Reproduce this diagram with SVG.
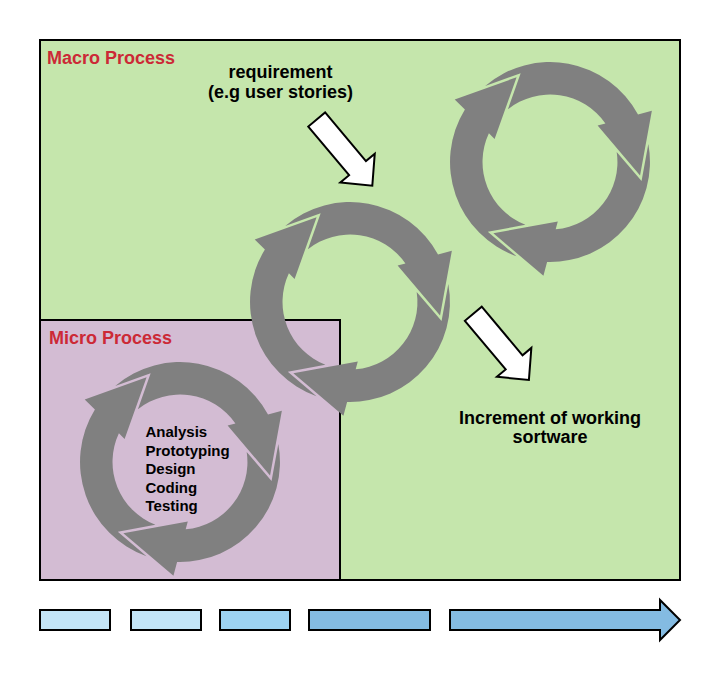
<svg xmlns="http://www.w3.org/2000/svg" xmlns:xlink="http://www.w3.org/1999/xlink" width="720" height="680" viewBox="0 0 720 680">
  <style>
    .lbl { font-family: "Liberation Sans", Arial, Helvetica, sans-serif; font-weight: bold; }
    .title { font-size: 18px; fill: #cc2936; }
    .big { font-size: 18px; fill: #000000; text-anchor: middle; }
    .small { font-size: 15px; fill: #000000; }
    .box { stroke: #000000; stroke-width: 2; }
    .seg { stroke: #000000; stroke-width: 2; }
    .cyc { fill: #808080; stroke: none; }
    .wa { fill: #ffffff; stroke: #000000; stroke-width: 2; stroke-linejoin: miter; }
  </style>
  <defs>
    <path id="ca" class="cyc" d="M -33.5,94.2 A 100,100 0 0 1 -85.1,-52.5 L -95.3,-62.6 L -33.4,-84.7 L -55.4,-23 L -61.1,-28.7 A 67.5,67.5 0 0 0 -24.6,62.8 L -62.2,69.8 Z"/>
    <g id="cycle">
      <use xlink:href="#ca" href="#ca"/>
      <use xlink:href="#ca" href="#ca" transform="rotate(120)"/>
      <use xlink:href="#ca" href="#ca" transform="rotate(240)"/>
    </g>
    <path id="warrow" class="wa" d="M0,-11 H63.5 V-22.5 L86.5,0 L63.5,22.5 V11 H0 Z"/>
  </defs>

  <rect width="720" height="680" fill="#ffffff"/>

  <g id="macro-process">
    <rect class="box" x="40" y="40" width="640" height="540" fill="#c5e6ac"/>
    <text class="lbl title" x="47" y="64">Macro Process</text>
  </g>

  <g id="micro-process">
    <rect class="box" x="40" y="320" width="300" height="260" fill="#d3bcd3"/>
    <text class="lbl title" x="49" y="343.5">Micro Process</text>
  </g>

  <g id="cycle-top">
    <use xlink:href="#cycle" href="#cycle" transform="translate(550,162)"/>
  </g>

  <g id="cycle-middle">
    <use xlink:href="#cycle" href="#cycle" transform="translate(350,302)"/>
  </g>

  <g id="cycle-micro">
    <use xlink:href="#cycle" href="#cycle" transform="translate(180,462)"/>
    <text class="lbl small" x="145.5" y="437">Analysis</text>
    <text class="lbl small" x="145.5" y="455.5">Prototyping</text>
    <text class="lbl small" x="145.5" y="474">Design</text>
    <text class="lbl small" x="145.5" y="492.5">Coding</text>
    <text class="lbl small" x="145.5" y="511">Testing</text>
  </g>

  <g id="requirement">
    <text class="lbl big" x="280.5" y="77.5">requirement</text>
    <text class="lbl big" x="280.5" y="98">(e.g user stories)</text>
  </g>

  <g id="increment">
    <text class="lbl big" x="550" y="424">Increment of working</text>
    <text class="lbl big" x="550" y="443">sortware</text>
  </g>

  <g id="connectors">
    <use xlink:href="#warrow" href="#warrow" transform="translate(316.7,119.5) rotate(50)"/>
    <use xlink:href="#warrow" href="#warrow" transform="translate(473.3,313.7) rotate(50)"/>
  </g>

  <g id="timeline">
    <rect class="seg" x="40" y="610" width="70" height="20" fill="#c3e5f7"/>
    <rect class="seg" x="131" y="610" width="70" height="20" fill="#c3e5f7"/>
    <rect class="seg" x="220" y="610" width="70" height="20" fill="#9dd3f2"/>
    <rect class="seg" x="309" y="610" width="121" height="20" fill="#84bbe2"/>
    <path class="seg" d="M450,610 H660 V600 L680,620 L660,640 V630 H450 Z" fill="#84bbe2"/>
  </g>
</svg>
